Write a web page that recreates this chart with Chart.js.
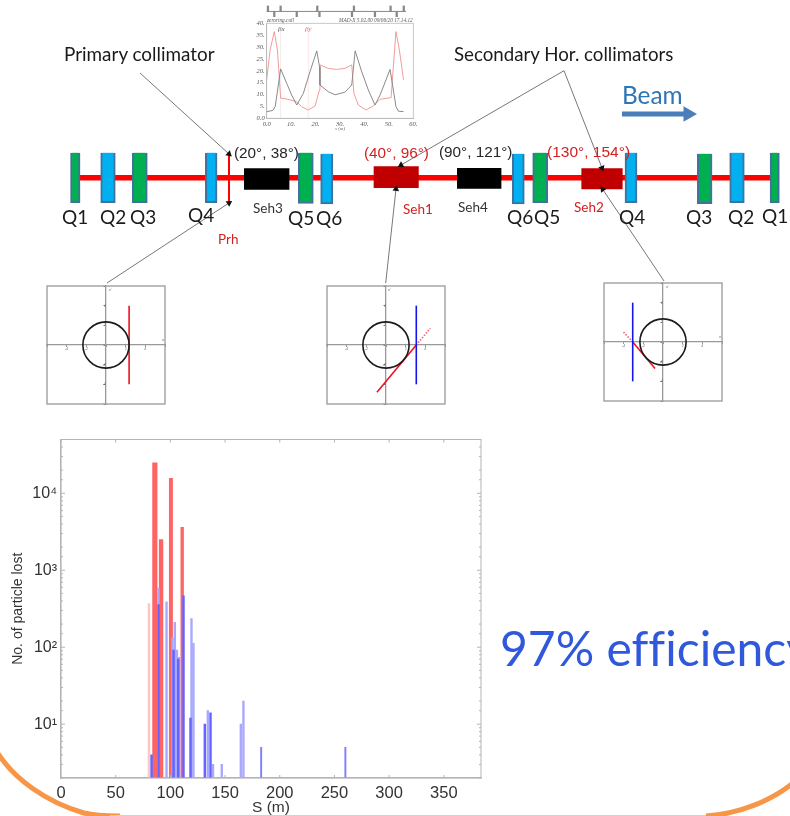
<!DOCTYPE html>
<html><head><meta charset="utf-8">
<style>
html,body{margin:0;padding:0;background:#fff;width:790px;height:816px;overflow:hidden}
#page{position:relative;width:790px;height:816px;overflow:hidden}
canvas{position:absolute;display:block}
.t{position:absolute;white-space:nowrap;line-height:1;transform:translateY(-50%);font-variant-ligatures:none}
svg{position:absolute;left:0;top:0}
</style>
<script src="https://cdn.jsdelivr.net/npm/chart.js@4"></script>
</head><body><div id="page">
<svg width="790" height="816"><path d="M-3,752 C14,779 46,802 84,813 C96,816 108,816 120,816" fill="none" stroke="#f79646" stroke-width="5"/><path d="M110,815.7 L716,815.7" stroke="#f9c79c" stroke-width="1.4"/><path d="M706,816 C740,814 772,800 793,783" fill="none" stroke="#f79646" stroke-width="5"/></svg>
<canvas id="lattice" width="790" height="430" style="left:0;top:0;filter:blur(.35px)"></canvas>
<canvas id="beta" width="190" height="134" style="left:240px;top:0;filter:blur(.6px)"></canvas>
<canvas id="ph1" width="124" height="124" style="left:44px;top:283px;filter:blur(.35px)"></canvas>
<canvas id="ph2" width="124" height="124" style="left:324px;top:283px;filter:blur(.35px)"></canvas>
<canvas id="ph3" width="124" height="124" style="left:601px;top:280px;filter:blur(.35px)"></canvas>
<canvas id="loss" width="500" height="386" style="left:0;top:430px;filter:blur(.35px)"></canvas>
</div>
<script>
// ---- Loss histogram ----
const sTicks=[0,50,100,150,200,250,300,350];
const paleRedS=[80.4], paleRedCounts=[368];
const redS=[85.8,91.5,100.5,110.8], redCounts=[24900,2500,15600,3600], redWidths=[4.5,3.7,3.3,2.7];
const lightBlueS=[89.2,96.5,102,104.1,106,108,119.3,121.1,134.2,139,147,164.4,166.8];
const lightBlueCounts=[590,390,134,210,92,74,235,112,15,3,3,10,20];
const darkBlueS=[82.8,89.2,102.9,107.2,112,118.4,131.5,136.7];
const darkBlueCounts=[4,357,92,70,464,12,10,14];
const thinBlueS=[183,260], thinBlueCounts=[5,5];
// ---- Optics inset ----
const betaXS=[0,2.5,3.5,5.7,8.2,10.2,12.3,15,17.7,20.5,21.6,21.8,25.2,28,32,34.8,36.2,38.9,41.6,44.3,46.4,50.5,52.9,53.9,56];
const betaXV=[2.8,3.3,5,20.8,14.7,9.8,5.6,10.5,19.6,28.4,21.8,14,11.2,9.9,11,14,28.4,19.6,11.9,5.6,9.8,20.6,5,3,2.8];
const betaYS=[0,1.4,3.1,4.4,5.7,8.2,12.3,14.3,17,19.8,21.6,21.8,25.2,28.6,32,34.8,35.7,37.5,40.6,43.7,46.4,50.9,52.9,54.3,56];
const betaYV=[16.2,28.8,36.5,28.8,8.5,8.1,7,4.9,3.5,5.2,12,22.5,21,20.6,21,22.5,10.5,5.6,3.5,5.2,8,8.7,36.5,28.8,16.2];
const elemUpperS=[0.5,5.7,20.7,35.7,50.7,56.1], elemLowerS=[3.1,12.3,21.6,34.9,44.3,53.2];
// ---- Phase-space plots ----
const acceptance=2.35;
const primaryCut=[[2.35,-4],[2.35,4]];
const sec1Blade=[[3.08,-4],[3.08,4]], sec1Red=[[-0.92,-4.8],[3.08,0]], sec1Dot=[[3.08,0],[4.5,1.7]];
const sec2Blade=[[-3.08,-4],[-3.08,4]], sec2Red=[[-3.08,0],[-0.81,-2.7]], sec2Dot=[[-3.08,0],[-4.1,1.1]];
// ---- Lattice sketch ----
const quadCentre=[75.3,108,139.8,211.2,305.8,326.8,518.3,540.2,631,704.7,737,774.7];
const quadWidth=[9.5,14.6,15,11.7,15,12.3,12,15,12,14.7,14.6,9.3];
const quadTop=[152.7,152.7,152.7,152.7,152.7,153.7,153.7,152.7,152.7,153.7,152.7,152.7];
const quadBottom=[202.7,202.7,202.7,202.7,203.3,204,204,202.7,202.7,203.7,202.7,202.7];
const quadFill=['#00b050','#00b0f0','#00b050','#00b0f0','#00b050','#00b0f0','#00b0f0','#00b050','#00b0f0','#00b050','#00b0f0','#00b050'];
const sextCentre=[266.7,396.2,479.2,602];
const sextWidth=[44.7,44.4,43.7,40.6];
const sextTop=[168.7,166.7,168.3,168.7];
const sextBottom=[189.3,187.7,188.3,189];
const sextFill=['#000000','#c00000','#000000','#c00000'];
const beamLine=[[80,177.7],[770,177.7]];
const primaryBlade=[[229,154],[229,202.7]];
const arrows=[[[140,73],[229,154]],[[564,70.7],[401,165]],[[564,70.7],[602,168]],[[107,283],[229,203]],[[385.7,283],[396,189]],[[664,281],[602.7,189.3]]];
const beamArrow=[[622,114],[688,114]];
// ---- Text ----
const labels=[
 ['Primary collimator',64,54,18.9,'#1a1a1a','Lato'],
 ['Secondary Hor. collimators',454,54,18.7,'#1a1a1a','Lato'],
 ['Beam',622,95,24.4,'#2e75b6','Lato'],
 ['(20°, 38°)',234,153,15.3,'#262626','Liberation Sans'],
 ['(40°, 96°)',364,153,15.3,'#d42020','Liberation Sans'],
 ['(90°, 121°)',439,152,15.3,'#262626','Liberation Sans'],
 ['(130°, 154°)',547,152,15.5,'#d42020','Liberation Sans'],
 ['Q1',62,216,19,'#1a1a1a','Lato'],['Q2',100,216,19,'#1a1a1a','Lato'],['Q3',130,216,19,'#1a1a1a','Lato'],
 ['Q4',188,214,19,'#1a1a1a','Lato'],['Q5',288,217,19,'#1a1a1a','Lato'],['Q6',316,217,19,'#1a1a1a','Lato'],
 ['Q6',507,216,19,'#1a1a1a','Lato'],['Q5',534,216,19,'#1a1a1a','Lato'],['Q4',619,216,19,'#1a1a1a','Lato'],
 ['Q3',686,216,19,'#1a1a1a','Lato'],['Q2',728,216,19,'#1a1a1a','Lato'],['Q1',762,215,19,'#1a1a1a','Lato'],
 ['Seh3',253,209,13.5,'#333','Lato'],['Seh1',403,210,13.5,'#d42020','Lato'],['Seh4',458,208,13.5,'#333','Lato'],
 ['Seh2',574,208,13.5,'#d42020','Lato'],['Prh',218,240,13.5,'#d42020','Lato'],
 ['97% efficiency',500,648,48,'#3058dc','Lato'],
 ['zeroring.coll',267,20.7,5.3,'#555','Liberation Serif','italic'],
 ['MAD-X 5.02.00  09/06/20 17.14.12',339,20.7,5.3,'#555','Liberation Serif','italic'],
 ['βx',278,29,7,'#555','Liberation Serif','italic'],
 ['βy',305,29,7,'#e66','Liberation Serif','italic'],
 ["x'",109,290,4,'#666','Liberation Sans'],['x',162,340,4,'#666','Liberation Sans'],
 ["x'",388,290,4,'#666','Liberation Sans'],["x'",666,287,4,'#666','Liberation Sans'],['x',719,337,4,'#666','Liberation Sans']
];
const yTitle='No. of particle lost', xTitle='S (m)';

const page=document.getElementById('page');
labels.forEach(l=>{const d=document.createElement('div');d.className='t';d.textContent=l[0];
 d.style.cssText=`left:${l[1]}px;top:${l[2]}px;font-size:${l[3]}px;color:${l[4]};font-family:'${l[5]}',sans-serif;font-style:${l[6]||'normal'}`;page.appendChild(d);});

Chart.defaults.animation=false;Chart.defaults.responsive=false;Chart.defaults.devicePixelRatio=1;
Chart.defaults.plugins.legend.display=false;Chart.defaults.plugins.tooltip.enabled=false;
const xy=a=>a.map(p=>({x:p[0],y:p[1]}));
const fitW=w=>s=>{s.width=w;s.paddingTop=s.paddingBottom=0;s.paddingLeft=s.paddingRight=0;};
const fitH=h=>s=>{s.height=h;s.paddingTop=s.paddingBottom=0;s.paddingLeft=s.paddingRight=0;};

// Lattice
const seg=(pts,color,w,extra)=>Object.assign({type:'line',data:xy(pts),borderColor:color,borderWidth:w,pointRadius:0,tension:0,clip:false},extra||{});
const latDs=[];
latDs.push(seg(beamLine,'#ff0000',5.5,{order:5}));
latDs.push(seg(primaryBlade,'#ff0000',2,{order:4}));
quadCentre.forEach((c,i)=>latDs.push({type:'bar',data:[{x:c,y:[quadTop[i],quadBottom[i]]}],barThickness:quadWidth[i],backgroundColor:quadFill[i],borderColor:'#41719c',borderWidth:2,grouped:false,order:2}));
sextCentre.forEach((c,i)=>latDs.push({type:'bar',data:[{x:c,y:[sextTop[i],sextBottom[i]]}],barThickness:sextWidth[i],backgroundColor:sextFill[i],borderWidth:0,grouped:false,order:3}));
arrows.forEach(a=>{const ang=Math.atan2(a[1][0]-a[0][0],a[0][1]-a[1][1])*180/Math.PI;
 latDs.push(seg(a,'#777',1,{order:1,pointRadius:[0,3.8],pointStyle:'triangle',pointRotation:ang,pointBackgroundColor:'#111',pointBorderColor:'#111',pointBorderWidth:0}));});
latDs.push(seg(beamArrow,'#4a7ebb',5,{order:1,pointRadius:[0,9],pointStyle:'triangle',pointRotation:90,pointBackgroundColor:'#4a7ebb',pointBorderWidth:0}));
new Chart(document.getElementById('lattice'),{type:'bar',data:{datasets:latDs},options:{layout:{padding:0,autoPadding:false},
 scales:{x:{type:'linear',display:false,min:0,max:790,offset:false},y:{type:'linear',display:false,min:0,max:430,reverse:true}}}});

// Beta inset
const upper=elemUpperS.map(s=>({x:s,y:[45,47.3]})), lower=elemLowerS.map(s=>({x:s,y:[42.8,45]}));
const smallSerif=s=>({size:s,style:'italic',family:'Liberation Serif'});
new Chart(document.getElementById('beta'),{type:'line',data:{datasets:[
 {data:betaXS.map((s,i)=>({x:s,y:betaXV[i]})),borderColor:'#8a8a8a',borderWidth:1,pointRadius:0,tension:0},
 {data:betaYS.map((s,i)=>({x:s,y:betaYV[i]})),borderColor:'#f59a9a',borderWidth:1,pointRadius:0,tension:0},
 {data:[{x:5.7,y:0},{x:5.7,y:37}],borderColor:'#e4e4e4',borderWidth:.7,pointRadius:0},
 {data:[{x:17,y:0},{x:17,y:37}],borderColor:'#fadada',borderWidth:.7,pointRadius:0},
 {data:[{x:0,y:45},{x:57,y:45}],borderColor:'#888',borderWidth:1,pointRadius:0,clip:false},
 {type:'bar',data:upper,barThickness:1.6,backgroundColor:'#888',clip:false,grouped:false},
 {type:'bar',data:lower,barThickness:1.6,backgroundColor:'#888',clip:false,grouped:false}
]},options:{layout:{padding:{left:0,top:23.3,right:16.7,bottom:0},autoPadding:false},scales:{
 x:{type:'linear',min:0,max:60,offset:false,afterFit:fitH(15.7),grid:{display:false,drawTicks:false},border:{color:'#bbb'},
  ticks:{stepSize:10,maxRotation:0,padding:2,color:'#555',font:smallSerif(6.5),callback:v=>v===0?'0.0':v+'.'},
  title:{display:true,text:'s (m)',color:'#666',padding:{top:0,bottom:2},font:smallSerif(5)}},
 y:{type:'linear',min:0,max:40,afterFit:fitW(26.7),grid:{display:false,drawTicks:false},border:{color:'#bbb'},
  ticks:{stepSize:5,padding:2,color:'#555',font:smallSerif(6.5),callback:v=>v===0?'0.0':v+'.'}}
}},plugins:[{id:'frame',afterDatasetsDraw(c){const a=c.chartArea,x=c.ctx;x.save();x.strokeStyle='#bbb';x.lineWidth=.8;x.strokeRect(a.left,a.top,a.right-a.left,a.bottom-a.top);x.restore();}}]});

// Phase-space plots
function phase(id,lines){
 const ds=[{type:'scatter',data:[{x:0,y:0}],showLine:false,borderColor:'#1c1c1c',borderWidth:1.6,backgroundColor:'rgba(0,0,0,0)',clip:false,
   pointRadius:c=>{const s=c.chart.scales.x;return s.getPixelForValue(acceptance)-s.getPixelForValue(0);}}];
 lines.forEach(l=>ds.push({type:'line',data:xy(l.pts),borderColor:l.color,borderWidth:l.w||1.6,borderDash:l.dash||[],pointRadius:0,tension:0,clip:false}));
 const axis=()=>({type:'linear',min:-6,max:6,grid:{drawOnChartArea:false,tickLength:1.5,color:'#777'},border:{color:'#999',width:1.3},
   ticks:{stepSize:2,padding:0,autoSkip:false,maxRotation:0,color:'#666',font:{size:3.5,family:'Liberation Sans'},callback:v=>(v===0||Math.abs(v)===6)?'':String(v)}});
 new Chart(document.getElementById(id),{type:'scatter',data:{datasets:ds},options:{layout:{padding:3,autoPadding:false},
  scales:{x:Object.assign(axis(),{position:{y:0}}),y:Object.assign(axis(),{position:{x:0}})}},
  plugins:[{id:'frame',beforeDatasetsDraw(c){const a=c.chartArea,x=c.ctx;x.save();x.strokeStyle='#999';x.lineWidth=1.3;x.strokeRect(a.left,a.top,a.right-a.left,a.bottom-a.top);x.restore();}}]});
}
phase('ph1',[{pts:primaryCut,color:'#f01020'}]);
phase('ph2',[{pts:sec1Blade,color:'#1414f0'},{pts:sec1Red,color:'#f01020'},{pts:sec1Dot,color:'#f06070',dash:[1.5,1.5]}]);
phase('ph3',[{pts:sec2Blade,color:'#1414f0'},{pts:sec2Red,color:'#f01020'},{pts:sec2Dot,color:'#f06070',dash:[1.5,1.5]}]);

// Histogram
const hist=[];
const bar=(s,n,w,col,order)=>({type:'bar',data:[{x:s,y:n}],barThickness:w,backgroundColor:col,borderWidth:0,grouped:false,order});
paleRedS.forEach((s,i)=>hist.push(bar(s,paleRedCounts[i],1.8,'#ffc4c4',5)));
redS.forEach((s,i)=>hist.push(bar(s,redCounts[i],redWidths[i],'#ff6464',4)));
lightBlueS.forEach((s,i)=>hist.push(bar(s,lightBlueCounts[i],1.7,'#a8a8ff',3)));
darkBlueS.forEach((s,i)=>hist.push(bar(s,darkBlueCounts[i],1.8,'#6464ff',2)));
thinBlueS.forEach((s,i)=>hist.push(bar(s,thinBlueCounts[i],1.3,'#8080ff',1)));
new Chart(document.getElementById('loss'),{type:'bar',data:{datasets:hist},options:{
 layout:{padding:{left:0,top:9.5,right:19,bottom:0},autoPadding:false},
 scales:{
  x:{type:'linear',min:0,max:384,offset:false,afterFit:fitH(38),grid:{display:false,drawTicks:false},border:{color:'#b4b4b4',width:1.2},
   afterBuildTicks:a=>{a.ticks=sTicks.map(v=>({value:v}));},
   ticks:{maxRotation:0,autoSkip:false,padding:6,color:'#333',font:{family:'Liberation Sans',size:16.5}},
   title:{display:true,text:xTitle,color:'#333',padding:{top:0,bottom:-1},font:{family:'Liberation Sans',size:15.5}}},
  y:{type:'logarithmic',min:2,max:50000,afterFit:fitW(61),grid:{display:false,drawTicks:false},border:{color:'#b4b4b4',width:1.2},
   ticks:{autoSkip:false,padding:4,color:'#333',font:{family:'Liberation Sans',size:16},callback:v=>{const e=Math.log10(v);if(Math.abs(e-Math.round(e))>1e-9)return '';return '10'+['⁰','¹','²','³','⁴'][Math.round(e)];}},
   title:{display:true,text:yTitle,color:'#333',padding:{top:10,bottom:0},font:{family:'Liberation Sans',size:14}}}
 }},plugins:[{id:'frameTicks',afterDatasetsDraw(c){const a=c.chartArea,x=c.ctx,X=c.scales.x,Y=c.scales.y;x.save();x.strokeStyle='#b4b4b4';x.lineWidth=1;
  x.strokeRect(a.left,a.top,a.right-a.left,a.bottom-a.top);x.beginPath();
  X.ticks.forEach(t=>{const p=X.getPixelForValue(t.value);x.moveTo(p,a.bottom);x.lineTo(p,a.bottom-3);x.moveTo(p,a.top);x.lineTo(p,a.top+3);});
  Y.ticks.forEach(t=>{const p=Y.getPixelForValue(t.value),e=Math.log10(t.value),L=Math.abs(e-Math.round(e))<1e-9?4:2;x.moveTo(a.left,p);x.lineTo(a.left+L,p);x.moveTo(a.right,p);x.lineTo(a.right-L,p);});
  x.stroke();x.restore();}}]});
</script></body></html>
